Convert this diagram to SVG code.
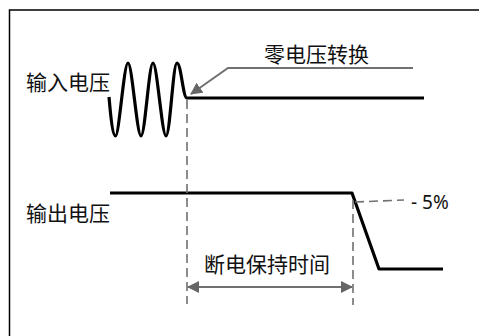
<svg xmlns="http://www.w3.org/2000/svg" width="479" height="336" viewBox="0 0 479 336">
<style>
.lbl{font-family:"Noto Sans CJK SC","Noto Sans",sans-serif;font-size:21px;fill:#111}
.sig{fill:none;stroke:#000;stroke-width:3.2;stroke-linejoin:round}
.dash{fill:none;stroke:#707070;stroke-width:1.6;stroke-dasharray:9,5}
.ptr{fill:none;stroke:#707070;stroke-width:2}
</style>
<defs>
<marker id="ah" viewBox="0 0 12 12" refX="11" refY="6" markerWidth="12" markerHeight="12" markerUnits="userSpaceOnUse" orient="auto-start-reverse">
<path d="M0,0 L12,6 L0,12 z" fill="#666"/>
</marker>
</defs>
<rect width="479" height="336" fill="#fff"/>
<g id="frame"><path d="M9.5,336 L9.5,10 L479,10" fill="none" stroke="#000" stroke-width="1.5"/></g>
<g id="input">
<path class="sig" d="M109,97 C111,120 113,136 115.5,136 C119,136 124,63 128,63 C132,63 137,136 141,136 C145,136 149,63 153,63 C157,63 162,136 166,136 C170,136 173,63 177,63 C181,63 183,98 187,98 L424,98"/>
<text class="lbl" x="26" y="90">输入电压</text>
</g>
<g id="output">
<path class="sig" d="M110,193 L352,193 L379,269 L443,269"/>
<text class="lbl" x="26" y="221">输出电压</text>
</g>
<g id="zero-label"><text class="lbl" x="264" y="62">零电压转换</text></g>
<g id="holdup-label"><text class="lbl" x="204" y="272">断电保持时间</text></g>
<g id="pct-label"><text x="411" y="209" style="font-family:'Noto Sans','DejaVu Sans',sans-serif;font-size:19px;fill:#111">- 5%</text></g>
<g id="connectors">
<path class="dash" d="M187,100 L187,304"/>
<path class="dash" d="M353,200 L353,305"/>
<path class="dash" d="M355,202 L404,200"/>
<path class="ptr" d="M413,68 L228,68 L191,94" marker-end="url(#ah)"/>
<path class="ptr" d="M188,287 L352,287" marker-start="url(#ah)" marker-end="url(#ah)"/>
</g>
</svg>
